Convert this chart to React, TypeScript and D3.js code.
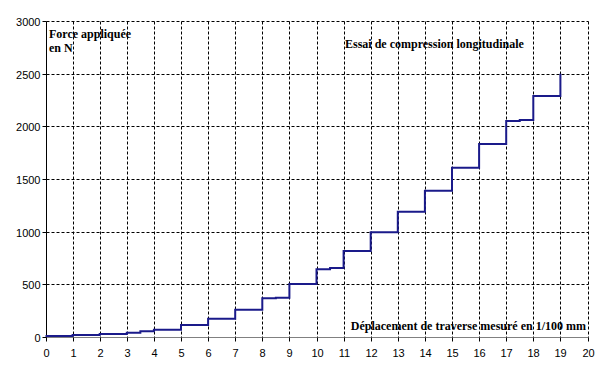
import React, { useEffect, useRef } from "react";
import * as d3 from "d3";

const xTicks = d3.range(0, 21);
const yTicks = [0, 500, 1000, 1500, 2000, 2500, 3000];
const stepX = [0, 1, 2, 3, 3.5, 4, 5, 6, 7, 8, 8.5, 9, 10, 10.5, 11, 12, 13, 14, 15, 16, 17, 17.5, 18, 19];
const stepY = [10, 19, 28, 40, 54, 70, 114, 174, 259, 367, 373, 503, 643, 655, 816, 994, 1190, 1389, 1607, 1832, 2051, 2060, 2288, 2500];
const yTitle = ["Force appliquée", "en N"];
const chartTitle = "Essai de compression longitudinale";
const xTitle = "Déplacement de traverse mesuré en 1/100 mm";

const W = 606, H = 372;

export default function App() {
  const ref = useRef<SVGSVGElement>(null);
  useEffect(() => {
    document.body.style.margin = "0";
    const svg = d3.select(ref.current);
    svg.selectAll("*").remove();
    const x = d3.scaleLinear().domain([0, 20]).range([45.5, 587.5]);
    const y = d3.scaleLinear().domain([0, 3000]).range([337, 21]);
    const px = (v: number) => Math.round(x(v)) + 0.5;
    const py = (v: number) => Math.round(y(v)) + 0.5;
    const g = svg.append("g");
    // vertical gridlines
    g.selectAll("line.vg").data(xTicks.filter(t => t > 0)).enter().append("line")
      .attr("x1", d => px(d)).attr("x2", d => px(d))
      .attr("y1", py(3000)).attr("y2", py(0))
      .attr("stroke", "#000").attr("stroke-width", 1).attr("stroke-dasharray", "3,2");
    // horizontal gridlines
    g.selectAll("line.hg").data(yTicks.filter(t => t > 0)).enter().append("line")
      .attr("x1", px(0)).attr("x2", px(20))
      .attr("y1", d => py(d)).attr("y2", d => py(d))
      .attr("stroke", "#000").attr("stroke-width", 1).attr("stroke-dasharray", "3,2");
    // x axis line
    g.append("line").attr("x1", px(0)).attr("x2", px(20)).attr("y1", py(0)).attr("y2", py(0))
      .attr("stroke", "#808080").attr("stroke-width", 1);
    // y axis line
    g.append("line").attr("x1", px(0)).attr("x2", px(0)).attr("y1", py(3000)).attr("y2", py(0))
      .attr("stroke", "#000").attr("stroke-width", 1);
    // y ticks
    g.selectAll("line.yt").data(yTicks).enter().append("line")
      .attr("x1", px(0) - 4).attr("x2", px(0)).attr("y1", d => py(d)).attr("y2", d => py(d))
      .attr("stroke", "#000");
    g.selectAll("text.yl").data(yTicks).enter().append("text")
      .attr("x", px(0) - 6).attr("y", d => py(d) + 4).attr("text-anchor", "end")
      .attr("font-family", "Liberation Sans, Arial, sans-serif").attr("font-size", 11).attr("fill", "#000")
      .text(d => String(d));
    // x ticks
    g.selectAll("line.xt").data(xTicks).enter().append("line")
      .attr("x1", d => px(d)).attr("x2", d => px(d)).attr("y1", py(0)).attr("y2", py(0) + 4)
      .attr("stroke", "#000");
    g.selectAll("text.xl").data(xTicks).enter().append("text")
      .attr("x", d => px(d)).attr("y", py(0) + 19).attr("text-anchor", "middle")
      .attr("font-family", "Liberation Sans, Arial, sans-serif").attr("font-size", 11).attr("fill", "#000")
      .text(d => String(d));
    // step line
    const pts: [number, number][] = stepX.map((v, i) => [v, stepY[i]]);
    pts.push([19, 2500]);
    const line = d3.line<[number, number]>().x(d => x(d[0])).y(d => y(d[1])).curve(d3.curveStepAfter);
    // replace last: step to 19 then vertical
    const data: [number, number][] = stepX.slice(0, -1).map((v, i) => [v, stepY[i]] as [number, number]);
    data.push([19, stepY[stepY.length - 2]]);
    data.push([19, stepY[stepY.length - 1]]);
    g.append("path").attr("d", line(data)).attr("fill", "none")
      .attr("stroke", "#1a1a8a").attr("stroke-width", 2);
    // texts
    const serif = "Liberation Serif, Times New Roman, serif";
    g.append("text").attr("x", 49).attr("y", 38).attr("font-family", serif).attr("font-weight", "bold")
      .attr("font-size", 12).text(yTitle[0]);
    g.append("text").attr("x", 49).attr("y", 52).attr("font-family", serif).attr("font-weight", "bold")
      .attr("font-size", 12).text(yTitle[1]);
    g.append("text").attr("x", 345).attr("y", 48).attr("font-family", serif).attr("font-weight", "bold")
      .attr("font-size", 12).text(chartTitle);
    g.append("text").attr("x", 586).attr("y", 330).attr("text-anchor", "end").attr("font-family", serif).attr("font-weight", "bold")
      .attr("font-size", 12).text(xTitle);
  }, []);
  return <svg ref={ref} width={W} height={H} style={{ display: "block", background: "#fff" }} />;
}
